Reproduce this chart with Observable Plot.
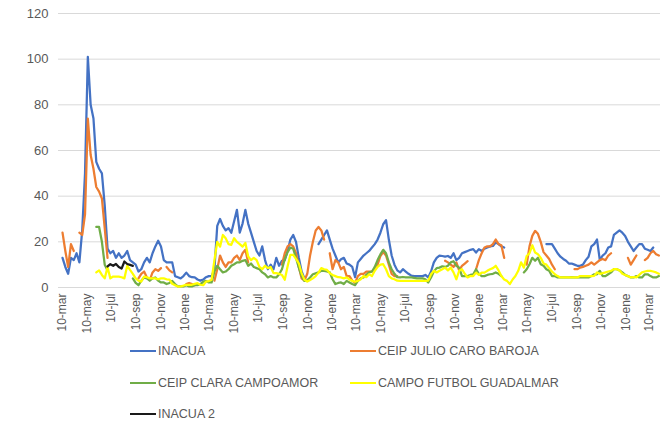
<!DOCTYPE html>
<html><head><meta charset="utf-8">
<script src="https://cdn.jsdelivr.net/npm/d3@7"></script>
<script src="https://cdn.jsdelivr.net/npm/@observablehq/plot@0.6"></script>
<style>
body{margin:0;background:#fff;}
#legend{position:relative;width:666px;height:79px;font-family:"Liberation Sans",Arial,sans-serif;}
.item{position:absolute;height:16px;display:flex;align-items:center;font-size:12.5px;color:#595959;white-space:nowrap;}
.sw{width:26px;height:2px;margin-right:2px;}
</style></head><body>
<div id="chart"></div>
<div id="legend"></div>
<script>
// Weekly samples starting 10-mar-2019
const startDate = "2019-03-10";

const inacua = [
13,9,6,13,12,15,11,25,50,101,
80,74,55,52,50,36,17,15,16,13,
15,13,14,16,12,11,10,7,8,11,
13,11,15,18,20.5,18,12,11,11,11,
5,4.5,4,5,6.5,5,4.5,4.4,3.5,3,
3.5,4.5,5,5,8,27,30,27,25,26,
24,29,34,24,28,34,28,24,20,16,
14,18,12,8,10,8,13,9.5,11.7,12,
16,21,23,20,13,7,4,null,null,null,
null,19,21,23,25,21,17,14,11,12.4,
13,10.5,10,9,4.5,11,12.5,14,15,16,
17.5,19,21,24,27.7,29.5,21,14,10,7.5,
6.6,8,7,6,5.2,5,5,5,5,5.5,
4.4,7,11,13,14,13.8,13.5,13.8,13,15,
12,13,15,15.5,16,16.5,16.8,15.3,16.8,16,
17,17.5,18,18.2,19.7,19,18,17.5,null,null,
null,null,null,null,null,null,null,null,null,null,
null,null,19,19,19,17,15,13.5,12.5,11.7,
10.5,10.5,10,9.5,9.5,10,12,13.5,18,19,
21,12,14,15,17.5,18,23,24,25,24,
22.6,20,18,16,17.5,19,19,17,16.5,16,
17.5];

const julioCaroBaroja = [
24,16,9,19,16,null,24,23,32,74,
58,52,44,42,39,26,13,null,null,null,
null,null,null,null,null,null,null,4,6,7,
4.4,3.2,6.6,8,7.3,8.5,null,9,7.5,6.6,
null,null,null,null,1.5,2,1.5,1,null,null,
null,null,null,null,3,8,14,11,9,11,
11,13,14,12,15,16.5,11,null,null,null,
null,null,null,null,null,null,null,null,10,15,
18,19,18,15,9,4,3,6,14,20,
25,26.5,25,21,null,15,8,12,11,8,
9,5,5,3,2,5,6,6,7,7,
7,8,10,13.8,15.5,14,10,6,5,5,
null,null,null,null,null,null,null,null,null,null,
null,null,null,null,null,null,11.7,11,10,9,
11,7.5,9.5,10.5,11.5,null,null,8,12,15,
17.5,18,18,19,21,19,18.5,13,null,null,
null,null,null,null,null,10,18,22.6,24.8,23.5,
20,15.5,14,12.5,10,8,null,null,null,null,
null,null,8,8,8.7,9,9.5,10,11,10,
11,12,12.5,12,14,15,null,null,null,null,
null,13,10,12,14,null,null,12,13,15,
16,14.6,14];

const claraCampoamor = [
null,null,null,null,null,null,null,null,null,null,
null,null,26.5,26.5,20,10,7.5,null,null,null,
null,null,null,null,null,4,2,1,3,4.4,
4,3,4,4.4,3,2.2,2.2,1.5,2,2.9,
1.5,0.5,0.5,0.5,1,0.5,0.5,1,1,1.5,
2.5,2.9,2.2,2.2,7,9.5,8,6.6,7,8,
9.5,10.2,11,11,11.7,12,9.5,10.5,9,8.5,
8,6.6,5.8,4.4,5,4.4,4.4,5.8,8,12.4,
15.5,17.5,17,13,8.7,5,2.9,3.2,4.4,5.8,
6.2,6.6,7.3,7.3,7,6.6,3.6,1.5,2,2.2,
1.5,2.9,2.2,1.5,1,2.9,4,4.4,5.5,6.6,
7,9,12,14.5,16.5,15,11,8,6,4.5,
4.4,4.6,4.4,4.4,4.4,4.2,4,4,4,3.6,
2.2,4.4,7,8.5,8.7,9.3,9,9.5,11,11.5,
9.5,8.7,5,5,5,5.5,5.8,8,6,5,
5,5.5,5.8,6,6.6,6,5,null,null,null,
null,null,null,null,6.6,8,10.2,13,11.7,13,
10.2,9.5,8,7.3,5,5,4.4,4.4,4.4,4.4,
4.4,4.5,4.4,4.4,4.4,4.4,4.4,4.4,5,5.8,
5.8,7.3,5,5,5.8,6.6,8,8,7.5,6.6,
5.5,5,4.4,4.4,5,4.4,4.4,5.8,5.8,5,
4.4,4.4,5];

const campoGuadalmar = [
null,null,null,null,null,null,null,null,null,null,
null,null,6.6,7.5,5.5,4,8.9,4,4.8,4.8,
4.8,4.5,4,9.5,7.7,6,4,3,2.6,4.8,
4.5,4,4,4,3.6,4,4,3.6,3.5,1.6,
1,0.4,0.5,0.8,1.2,1.2,1.2,1.6,1.9,1.2,
1,2.6,2.8,3.4,12,20,17.9,23,21.6,19,
18.7,21.6,20,19,17.9,19.5,13.6,12,13,12,
9,8,9.5,8.5,9,6.3,6.3,6,5.5,3.4,
9.2,14.3,14.3,12.5,10.6,6.3,3.4,2.6,3.3,4,
5,6.5,8.5,8,7.7,6.3,5.5,5,4.5,4.4,
4,4.4,3.5,2.9,2.5,2.9,3.6,5,4.5,5.8,
5,7.3,9,10,10.2,8,5,4,3.6,3,
2.9,2.9,2.9,2.9,2.9,2.9,2.9,2.9,2.9,2.9,
3,5.8,7.3,6.6,7.3,8,8.7,7.5,8.7,6.6,
3.6,7.3,8,6,4.4,5,5,6.5,5.5,6.5,
6.5,7.3,8,8.5,9.5,7.5,5,3.5,2.9,1.5,
3.5,5,7.3,11,8.7,13.8,15,18.5,15.3,14.6,
13,10.5,10,8.5,7,5.8,5,4.4,4.4,4.4,
4.4,4.4,4.4,4.4,5,5,5,5,5,5.1,
6.6,6,6.3,6.6,7,7.3,8,8,7.5,6,
5.5,5,4.4,4.6,4.4,5.5,6.6,7,7.3,7.3,
7,6.6,6];

const inacua2 = [
null,null,null,null,null,null,null,null,null,null,
null,null,null,null,null,null,9.2,10.2,9.5,10.3,
9,8.3,11.4,10.3,9.9,9.5];

const seriesNames = ["INACUA","CEIP JULIO CARO BAROJA","CEIP CLARA CAMPOAMOR","CAMPO FUTBOL GUADALMAR","INACUA 2"];
const seriesColors = ["#4472C4","#ED7D31","#70AD47","#FFFF00","#1a1a1a"];
const seriesValues = [inacua, julioCaroBaroja, claraCampoamor, campoGuadalmar, inacua2];

const yTicks = [0,20,40,60,80,100,120];
const xTickDates = ["2019-03-10","2019-05-10","2019-07-10","2019-09-10","2019-11-10",
 "2020-01-10","2020-03-10","2020-05-10","2020-07-10","2020-09-10","2020-11-10",
 "2021-01-10","2021-03-10","2021-05-10","2021-07-10","2021-09-10","2021-11-10",
 "2022-01-10","2022-03-10","2022-05-10","2022-07-10","2022-09-10","2022-11-10",
 "2023-01-10","2023-03-10"];
const xTickLabels = ["10-mar","10-may","10-jul","10-sep","10-nov",
 "10-ene","10-mar","10-may","10-jul","10-sep","10-nov",
 "10-ene","10-mar","10-may","10-jul","10-sep","10-nov",
 "10-ene","10-mar","10-may","10-jul","10-sep","10-nov",
 "10-ene","10-mar"];
const xDomain = ["2019-02-28","2023-04-06"];

const t0 = new Date(startDate + "T00:00:00Z");
const weekDate = i => new Date(+t0 + i * 7 * 864e5);
const tickDates = xTickDates.map(s => new Date(s + "T00:00:00Z"));
const labelByTime = new Map(tickDates.map((d, i) => [+d, xTickLabels[i]]));

const font = "'Liberation Sans', Arial, sans-serif";
const lines = seriesValues.map((vals, k) =>
  Plot.lineY(vals.map((v, i) => ({d: weekDate(i), v})), {
    x: "d", y: "v", stroke: seriesColors[k], strokeWidth: 2.25, strokeLinejoin: "round"
  }));

const chart = Plot.plot({
  width: 666, height: 345,
  marginLeft: 58, marginRight: 6, marginTop: 13, marginBottom: 58,
  style: {fontFamily: font, color: "#595959", background: "#fff"},
  x: {type: "utc", domain: xDomain.map(s => new Date(s + "T00:00:00Z"))},
  y: {domain: [0, 120]},
  marks: [
    Plot.ruleY(yTicks, {stroke: "#d9d9d9", strokeWidth: 1}),
    Plot.axisY({ticks: yTicks, tickSize: 0, tickPadding: 10, label: null, fontSize: 13}),
    Plot.axisX({ticks: tickDates, tickFormat: d => labelByTime.get(+d), tickRotate: -90,
      tickSize: 0, tickPadding: 6, label: null, fontSize: 12}),
    ...lines
  ]
});
document.getElementById("chart").appendChild(chart);

// Legend below the chart
const legendPos = [[130, 6], [350, 6], [130, 38], [350, 38], [130, 69]];
const legend = document.getElementById("legend");
seriesNames.forEach((name, k) => {
  const it = document.createElement("div");
  it.className = "item";
  it.style.left = legendPos[k][0] + "px";
  it.style.top = (legendPos[k][1] - 8) + "px";
  const sw = document.createElement("span");
  sw.className = "sw";
  sw.style.background = seriesColors[k];
  const tx = document.createElement("span");
  tx.textContent = name;
  it.appendChild(sw); it.appendChild(tx);
  legend.appendChild(it);
});
</script>
</body></html>
